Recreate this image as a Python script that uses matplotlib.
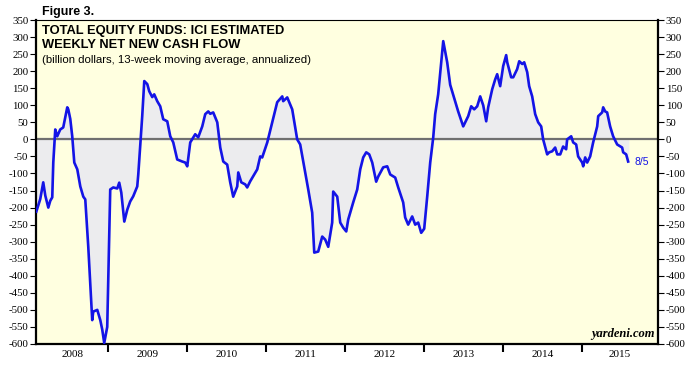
import matplotlib
matplotlib.use('Agg')
import numpy as np
from matplotlib import pyplot as plt

# weekly net new cash flow, 13-week average, annualized (billion $)
t = [2008.089, 2008.139, 2008.177, 2008.203, 2008.241, 2008.266, 2008.291, 2008.304,
     2008.329, 2008.354, 2008.392, 2008.430, 2008.481, 2008.494, 2008.519, 2008.544,
     2008.570, 2008.608, 2008.646, 2008.684, 2008.709, 2008.747, 2008.772, 2008.797,
     2008.810, 2008.861, 2008.899, 2008.924, 2008.949, 2008.987, 2009.025, 2009.063,
     2009.114, 2009.139, 2009.165, 2009.203, 2009.241, 2009.278, 2009.316, 2009.367,
     2009.380, 2009.430, 2009.456, 2009.494, 2009.519, 2009.557, 2009.582, 2009.620,
     2009.658, 2009.696, 2009.747, 2009.785, 2009.823, 2009.873, 2009.937, 2009.975,
     2010.000, 2010.038, 2010.101, 2010.139, 2010.190, 2010.228, 2010.266, 2010.291,
     2010.329, 2010.380, 2010.418, 2010.456, 2010.506, 2010.544, 2010.582, 2010.633,
     2010.646, 2010.684, 2010.734, 2010.759, 2010.797, 2010.886, 2010.924, 2010.949,
     2011.013, 2011.076, 2011.139, 2011.203, 2011.215, 2011.266, 2011.329, 2011.392,
     2011.430, 2011.494, 2011.532, 2011.582, 2011.608, 2011.658, 2011.709, 2011.747,
     2011.785, 2011.835, 2011.848, 2011.899, 2011.937, 2011.975, 2012.013, 2012.038,
     2012.101, 2012.152, 2012.190, 2012.228, 2012.266, 2012.304, 2012.342, 2012.392,
     2012.418, 2012.481, 2012.532, 2012.570, 2012.633, 2012.671, 2012.734, 2012.759,
     2012.797, 2012.848, 2012.886, 2012.924, 2012.962, 2013.000, 2013.038, 2013.076,
     2013.114, 2013.139, 2013.177, 2013.241, 2013.291, 2013.329, 2013.392, 2013.430,
     2013.494, 2013.557, 2013.595, 2013.633, 2013.671, 2013.709, 2013.747, 2013.785,
     2013.810, 2013.861, 2013.899, 2013.924, 2013.962, 2014.000, 2014.038, 2014.051,
     2014.101, 2014.127, 2014.177, 2014.203, 2014.241, 2014.266, 2014.304, 2014.329,
     2014.367, 2014.405, 2014.443, 2014.481, 2014.506, 2014.557, 2014.582, 2014.620,
     2014.658, 2014.684, 2014.722, 2014.759, 2014.797, 2014.810, 2014.861, 2014.886,
     2014.924, 2014.949, 2015.000, 2015.013, 2015.038, 2015.063, 2015.101, 2015.139,
     2015.190, 2015.203, 2015.253, 2015.266, 2015.291, 2015.316, 2015.354, 2015.392,
     2015.443, 2015.506, 2015.519, 2015.557, 2015.570, 2015.582]
akis = [-212, -175, -126, -165, -200, -180, -170, -68,
        29, 9, 29, 35, 94, 88, 60, 9,
        -68, -88, -138, -168, -176, -315, -420, -530,
        -505, -500, -530, -558, -597, -550, -147, -141,
        -144, -127, -156, -241, -206, -182, -167, -138,
        -103, 68, 171, 162, 141, 124, 132, 112,
        97, 59, 53, 9, -9, -59, -65, -68,
        -79, -9, 15, 6, 38, 74, 82, 75,
        79, 50, -24, -65, -74, -126, -168, -138,
        -97, -126, -132, -141, -123, -88, -50, -53,
        -9, 50, 109, 126, 112, 123, 88, 0,
        -15, -97, -147, -215, -332, -329, -285, -294,
        -315, -244, -153, -168, -244, -259, -270, -235,
        -185, -147, -88, -53, -38, -44, -68, -124,
        -109, -82, -79, -103, -112, -141, -185, -229,
        -250, -226, -250, -244, -274, -262, -168, -68,
        5, 74, 132, 288, 226, 160, 112, 82,
        38, 68, 97, 88, 97, 126, 100, 53,
        94, 147, 176, 191, 156, 215, 247, 226,
        182, 182, 206, 229, 221, 226, 197, 156,
        126, 74, 50, 38, 0, -44, -38, -35,
        -24, -44, -44, -21, -29, 0, 9, -9,
        -15, -50, -68, -79, -53, -68, -50, -9,
        38, 68, 79, 94, 82, 79, 38, 9,
        -15, -24, -38, -44, -55, -65]

yillar = [2008, 2009, 2010, 2011, 2012, 2013, 2014, 2015]
y_ticks = list(range(-600, 351, 50))

fig = plt.figure(figsize=(7, 3.67), dpi=100)
ax = fig.add_axes([0.0514, 0.0627, 0.8886, 0.8828])
ax.set_facecolor('#ffffe0')

ax.fill_between(t, akis, 0, color='#ececee', zorder=1)
ax.axhline(0, color='#707070', lw=1.6, zorder=2)
ax.plot(t, akis, color='#1414e6', lw=1.9, zorder=3)

x0, x1 = 2008.085, 2015.96
ax.set_xlim(x0, x1)
ax.set_ylim(-600, 350)

# y eksenleri her iki tarafta
ax.set_yticks(y_ticks)
ax.set_yticklabels([str(v) for v in y_ticks], family='Liberation Serif', fontsize=7.8)
ax.tick_params(axis='y', which='both', left=True, right=True, labelleft=True,
               labelright=True, direction='out', length=4, width=0.8, pad=1.5)

# yil sinirlari major tik, etiketler ortada minor tik
ax.set_xticks(yillar[1:])
ax.set_xticklabels([])
ax.tick_params(axis='x', which='major', direction='out', length=6, width=1.5)
merkez = []
for y in yillar:
    a = max(y, x0)
    b = min(y + 1, x1)
    merkez.append((a + b) / 2)
ax.set_xticks(merkez, minor=True)
ax.set_xticklabels([str(y) for y in yillar], minor=True, family='Liberation Serif', fontsize=8)
ax.tick_params(axis='x', which='minor', length=0, pad=4)

for s in ['left', 'right', 'bottom']:
    ax.spines[s].set_linewidth(1.6)
ax.spines['top'].set_linewidth(0.8)

fig.text(0.06, 0.985, 'Figure 3.', fontsize=9, fontweight='bold', va='top', family='Liberation Sans')
ax.text(0.01, 0.985, 'TOTAL EQUITY FUNDS: ICI ESTIMATED\nWEEKLY NET NEW CASH FLOW',
        transform=ax.transAxes, fontsize=9.3, fontweight='bold', va='top',
        family='Liberation Sans', linespacing=1.2)
ax.text(0.01, 0.893, '(billion dollars, 13-week moving average, annualized)',
        transform=ax.transAxes, fontsize=8.2, va='top', family='Liberation Sans')
ax.text(0.995, 0.012, 'yardeni.com', transform=ax.transAxes, fontsize=9,
        fontweight='bold', style='italic', ha='right', va='bottom', family='Liberation Serif')
ax.text(t[-1] + 0.08, akis[-1], '8/5', color='#1414e6', fontsize=7.5, va='center',
        family='Liberation Sans')

plt.savefig('out.png', dpi=100)
